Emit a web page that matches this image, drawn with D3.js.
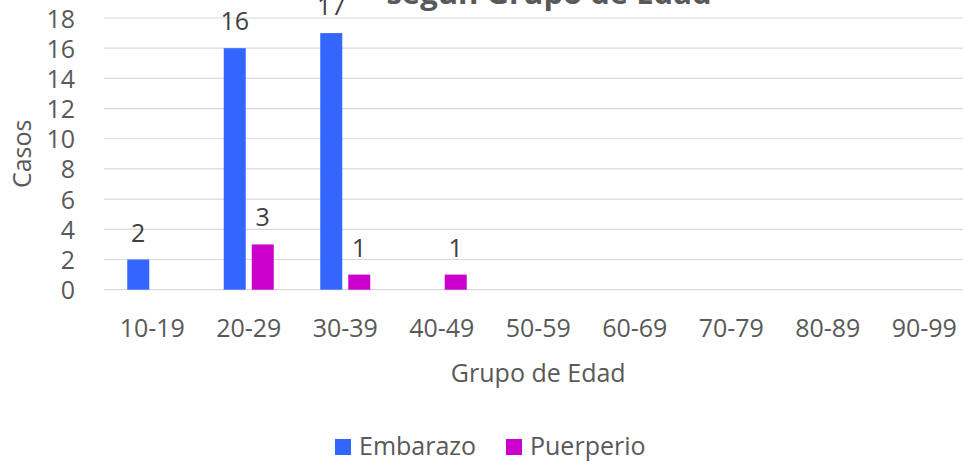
<!DOCTYPE html>
<html><head><meta charset="utf-8">
<script src="https://cdn.jsdelivr.net/npm/d3@7"></script>
<style>body{margin:0;background:#fff;} svg{display:block;font-family:"Open Sans",sans-serif;}</style>
</head><body>
<svg id="c" width="963" height="462"></svg>
<script>
const categories = ["10-19","20-29","30-39","40-49","50-59","60-69","70-79","80-89","90-99"];
const seriesNames = ["Embarazo","Puerperio"];
const embarazo = [2,16,17,0,0,0,0,0,0];
const puerperio = [0,3,1,1,0,0,0,0,0];
const yTicks = [0,2,4,6,8,10,12,14,16,18];
const colors = ["#3366FF","#CC00CC"];
const titleText = "según Grupo de Edad";
const yTitle = "Casos";
const xTitle = "Grupo de Edad";

(function(){
const svg = d3.select("#c");
const pL = 104, pR = 972.5, pT = 18, pB = 289.7;
const x = d3.scaleBand().domain(categories).range([pL, pR]).paddingInner(0).paddingOuter(0);
const y = d3.scaleLinear().domain([0, 18]).range([pB, pT]);
const barW = 22, gap = 6;
const sub = d3.scaleOrdinal().domain(seriesNames).range([-(barW + gap/2) , gap/2]);

svg.append("g").selectAll("line").data(yTicks).join("line")
  .attr("x1", pL).attr("x2", 963)
  .attr("y1", d => y(d)).attr("y2", d => y(d))
  .attr("stroke", "#d9d9d9").attr("stroke-width", 1.2);

const yAxis = d3.axisLeft(y).tickValues(yTicks).tickSize(0).tickPadding(0);
const yg = svg.append("g").attr("transform", `translate(${pL - 29},0)`).call(yAxis);
yg.select(".domain").remove();
yg.selectAll("text").attr("fill", "#595959").style("font-size", "25px").style("font-family", "'Open Sans',sans-serif").attr("dy", "0.36em");

const xAxis = d3.axisBottom(x).tickSize(0).tickPadding(0);
const xg = svg.append("g").attr("transform", `translate(0,${pB + 29.5})`).call(xAxis);
xg.select(".domain").remove();
xg.selectAll("text").attr("fill", "#595959").style("font-size", "25px").style("font-family", "'Open Sans',sans-serif").attr("dy", "0.71em");

const data = [];
categories.forEach((c, i) => {
  data.push({cat: c, s: seriesNames[0], v: embarazo[i]});
  data.push({cat: c, s: seriesNames[1], v: puerperio[i]});
});

const bars = data.filter(d => d.v > 0);
svg.append("g").selectAll("rect").data(bars).join("rect")
  .attr("x", d => x(d.cat) + x.bandwidth()/2 + sub(d.s))
  .attr("y", d => y(d.v))
  .attr("width", barW)
  .attr("height", d => y(0) - y(d.v))
  .attr("fill", d => colors[seriesNames.indexOf(d.s)]);

svg.append("g").selectAll("text").data(bars).join("text")
  .attr("x", d => x(d.cat) + x.bandwidth()/2 + sub(d.s) + barW/2)
  .attr("y", d => y(d.v) - 18)
  .attr("text-anchor", "middle")
  .attr("fill", "#404040").style("font-size", "25px")
  .text(d => d.v);

svg.append("text").attr("x", 549).attr("y", 4).attr("text-anchor", "middle")
  .attr("fill", "#595959").style("font-size", "31px").style("font-weight", "bold")
  .text(titleText);

svg.append("text").attr("transform", `translate(31,${(pT+pB)/2}) rotate(-90)`)
  .attr("text-anchor", "middle").attr("fill", "#595959").style("font-size", "25px").text(yTitle);
svg.append("text").attr("x", (pL+pR)/2).attr("y", 382).attr("text-anchor", "middle")
  .attr("fill", "#595959").style("font-size", "25px").text(xTitle);

const legendX = [335, 506];
const lg = svg.append("g").selectAll("g").data(seriesNames).join("g")
  .attr("transform", (d, i) => `translate(${legendX[i]},439)`);
lg.append("rect").attr("width", 16).attr("height", 16).attr("fill", (d, i) => colors[i]);
lg.append("text").attr("x", 24).attr("y", 16).attr("fill", "#595959").style("font-size", "25px").text(d => d);
})();
</script>
</body></html>
